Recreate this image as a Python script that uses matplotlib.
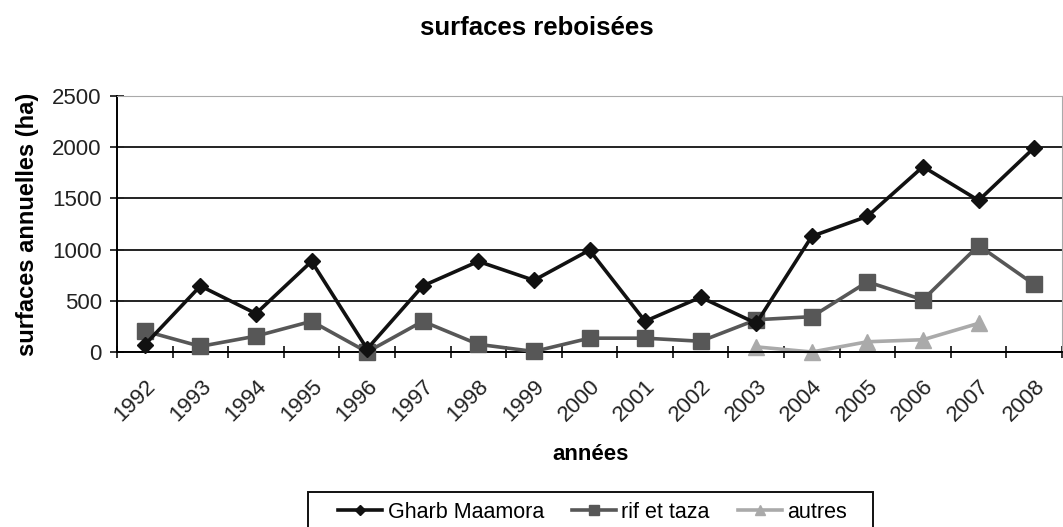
import numpy as np
import matplotlib.pyplot as plt
from matplotlib.patches import Rectangle

plt.rcParams['font.family'] = ['Liberation Sans', 'DejaVu Sans']

years = [str(y) for y in range(1992, 2009)]
gharb = [70, 645, 375, 885, 30, 645, 885, 700, 995, 300, 535, 280, 1130, 1325, 1810, 1480, 1995]
rif = [205, 55, 155, 300, 0, 300, 75, 5, 135, 135, 105, 315, 345, 685, 510, 1040, 660]
autres_years = ['2003', '2004', '2005', '2006', '2007']
autres = [50, 0, 100, 120, 280]

W, H = 1063, 527
fig = plt.figure(figsize=(W / 100, H / 100), dpi=100)
ax = fig.add_axes([117 / W, 1 - 352 / H, (1062 - 117) / W, (352 - 96) / H])

x = np.arange(len(years))
xa = [years.index(y) for y in autres_years]

# markers at zero hang over the axis in the original, so no clipping
ax.plot(x, gharb, color='#111111', lw=2.6, marker='D', ms=8, label='Gharb Maamora', zorder=4, clip_on=False)
ax.plot(x, rif, color='#575757', lw=2.6, marker='s', ms=12, label='rif et taza', zorder=3, clip_on=False)
ax.plot(xa, autres, color='#aaaaaa', lw=2.6, marker='^', ms=11, label='autres', zorder=2, clip_on=False)

ax.set_xlim(-0.5, len(years) - 0.5)
ax.set_ylim(0, 2500)
ax.set_yticks(range(0, 2501, 500))
ax.yaxis.grid(True, color='#222222', lw=1.4)
ax.set_axisbelow(True)

ax.set_xticks(x)
ax.set_xticklabels(years, rotation=45, ha='right', rotation_mode='anchor', fontsize=16, color='#222222')
ax.set_xticks(np.arange(-0.5, len(years), 1), minor=True)
ax.tick_params(axis='x', which='major', length=0, pad=17)
ax.tick_params(axis='x', which='minor', direction='inout', length=8, width=1.3, color='#222222')
ax.tick_params(axis='y', labelsize=16, labelcolor='#222222', direction='inout', length=10,
               width=1.3, color='#222222', pad=6)

ax.spines['top'].set_color('#aaaaaa')
ax.spines['right'].set_color('#aaaaaa')
ax.spines['left'].set_linewidth(1.4)
ax.spines['bottom'].set_linewidth(1.4)

fig.text(0.505, 1 - 28 / H, 'surfaces reboisées', ha='center', va='center', fontsize=18.5, fontweight='bold')
ax.set_ylabel('surfaces annuelles (ha)', fontsize=17, fontweight='bold')
ax.yaxis.set_label_coords(-0.083, 0.5)
fig.text(591 / W, 1 - 454 / H, 'années', ha='center', va='center', fontsize=16, fontweight='bold')

fig.patches.append(Rectangle((308 / W, -0.05), (873 - 308) / W, 0.05 + 1 - 492 / H,
                             transform=fig.transFigure, fill=False, edgecolor='#111111', lw=1.4))
fig.legend(loc='center left', bbox_to_anchor=(338 / W, 1 - 512 / H), ncol=3, fontsize=15.5,
           frameon=False, handlelength=2.05, handletextpad=0.25, columnspacing=1.3,
           borderpad=0, borderaxespad=0, markerscale=0.65)

fig.savefig('out.png', dpi=100)
